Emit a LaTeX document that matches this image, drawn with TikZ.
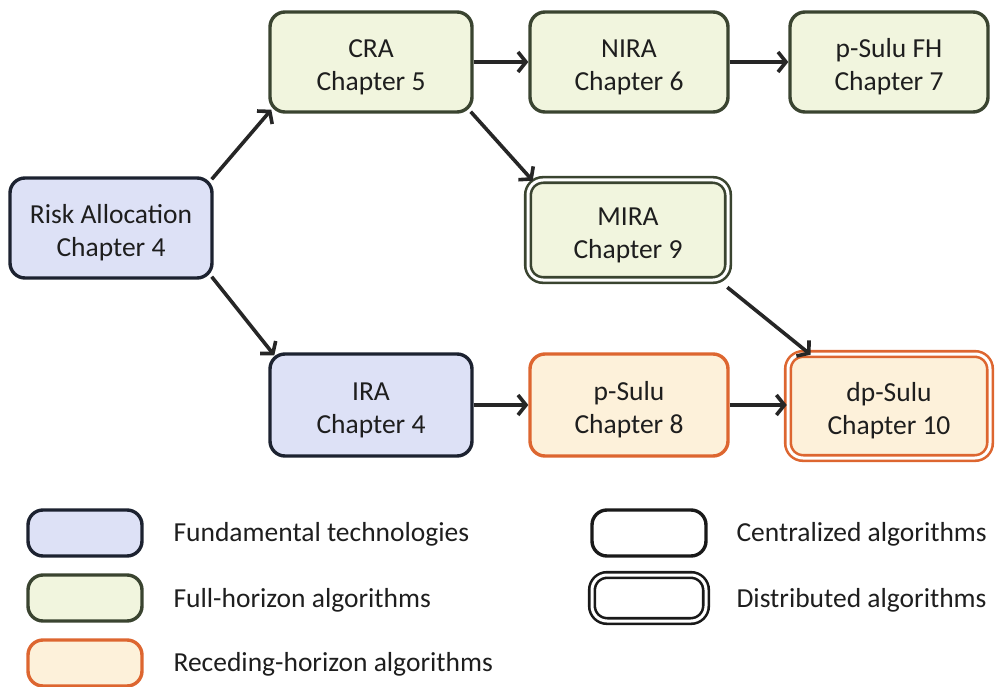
\documentclass[tikz,border=0pt]{standalone}
\usepackage{fontspec}
\setmainfont{Carlito}
\usetikzlibrary{arrows.meta}
\definecolor{bluefill}{HTML}{DDE1F6}
\definecolor{blueline}{HTML}{1C2230}
\definecolor{greenfill}{HTML}{F1F5DE}
\definecolor{greenline}{HTML}{3A4430}
\definecolor{orangefill}{HTML}{FDF1DA}
\definecolor{orangeline}{HTML}{DD6630}
\definecolor{txt}{HTML}{1E1E1E}
\newcommand{\upstrut}{\rule{0pt}{28pt}}
\tikzset{
  box/.style={rounded corners=15pt, line width=3.4pt, align=center, text=txt,
    font=\fontsize{27.5}{33}\selectfont, inner sep=0pt},
  fund/.style={box, draw=blueline, fill=bluefill},
  full/.style={box, draw=greenline, fill=greenfill},
  rece/.style={box, draw=orangeline, fill=orangefill},
  dist/.style={double=white, double distance=3pt, line width=2.6pt},
  conn/.style={line width=3.6pt, draw=black!85, -{Straight Barb[length=8pt,width=20pt,line width=3.6pt]}},
  legtext/.style={anchor=west, text=txt, font=\fontsize{27.5}{33}\selectfont}
}
\begin{document}
\begin{tikzpicture}[x=1pt,y=-1pt]
\useasboundingbox (0,0) rectangle (996,687);
\node[fund, minimum width=202pt, minimum height=100pt] (risk) at (111,228) {\upstrut Risk Allocation\\Chapter 4};
\node[full, minimum width=202pt, minimum height=100pt] (cra) at (371,62) {\upstrut CRA\\Chapter 5};
\node[full, minimum width=198pt, minimum height=100pt] (nira) at (629,62) {\upstrut NIRA\\Chapter 6};
\node[full, minimum width=198pt, minimum height=100pt] (fh) at (889,62) {\upstrut p-Sulu FH\\Chapter 7};
\node[full, dist, minimum width=200pt, minimum height=100pt] (mira) at (628,230) {\upstrut MIRA\\Chapter 9};
\node[fund, minimum width=202pt, minimum height=102pt] (ira) at (371,405) {\upstrut IRA\\Chapter 4};
\node[rece, minimum width=198pt, minimum height=102pt] (psulu) at (629,405) {\upstrut p-Sulu\\Chapter 8};
\node[rece, dist, minimum width=202pt, minimum height=104pt] (dpsulu) at (889,406) {\upstrut dp-Sulu\\Chapter 10};

\draw[conn] ([xshift=-2pt,yshift=-3pt]risk.north east) -- ([xshift=3pt,yshift=4pt]cra.south west);
\draw[conn] ([xshift=-2pt,yshift=3pt]risk.south east) -- ([xshift=6pt,yshift=-3pt]ira.north west);
\draw[conn] (cra.east) -- (nira.west);
\draw[conn] (nira.east) -- (fh.west);
\draw[conn] ([xshift=-3pt,yshift=2pt]cra.south east) -- ([xshift=6pt,yshift=-2pt]mira.north west);
\draw[conn] ([xshift=-2pt,yshift=-6pt]mira.south east) -- ([xshift=24pt,yshift=-2pt]dpsulu.north west);
\draw[conn] (ira.east) -- (psulu.west);
\draw[conn] (psulu.east) -- (psulu.east -| dpsulu.west);

% legend
\node[fund, minimum width=114pt, minimum height=46pt] (lf) at (85,533) {};
\node[full, minimum width=114pt, minimum height=46pt] (lg) at (85,598) {};
\node[rece, minimum width=114pt, minimum height=46pt] (lo) at (85,663) {};
\node[legtext] (tf) at (170,534) {Fundamental technologies};
\node[legtext] (tg) at (170,600) {Full-horizon algorithms};
\node[legtext] (to) at (170,664) {Receding-horizon algorithms};
\node[box, draw=black!90, fill=white, minimum width=114pt, minimum height=46pt] (lc) at (649,533) {};
\node[box, dist, draw=black!90, fill=white, minimum width=114pt, minimum height=46pt] (ld) at (649,598) {};
\node[legtext] (tc) at (733,534) {Centralized algorithms};
\node[legtext] (td) at (733,600) {Distributed algorithms};
\end{tikzpicture}
\end{document}
